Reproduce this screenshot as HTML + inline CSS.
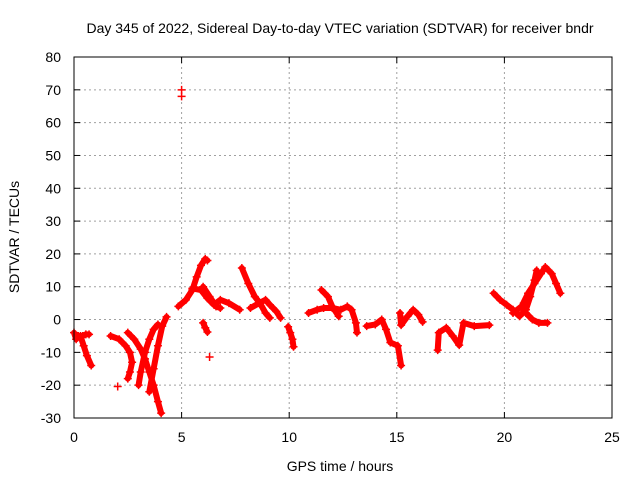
<!DOCTYPE html>
<html><head><meta charset="utf-8"><style>
body{margin:0;background:#fff;}
svg text{font-family:"Liberation Sans",sans-serif;font-size:14px;fill:#000;}
</style></head><body>
<svg id="chart" width="640" height="480" xmlns="http://www.w3.org/2000/svg">
<text x="340" y="33" text-anchor="middle">Day 345 of 2022, Sidereal Day-to-day VTEC variation (SDTVAR) for receiver bndr</text>
<text x="340" y="471" text-anchor="middle">GPS time / hours</text>
<text transform="translate(19,237) rotate(-90)" text-anchor="middle">SDTVAR / TECUs</text>
<g id="grid"></g><g id="ticks"></g><g id="data"></g>
<rect x="74" y="57" width="538" height="361" fill="none" stroke="#000" stroke-width="1"/>
</svg>
<script>
const xTicks=[0,5,10,15,20,25];
const yTicks=[-30,-20,-10,0,10,20,30,40,50,60,70,80];
const arcA=[[0,-4],[0.1,-6],[0.2,-5],[0.4,-5],[0.55,-4.5],[0.7,-4.5]];
const arcA2=[[0.3,-5],[0.45,-8],[0.6,-11],[0.8,-14]];
const arcB1=[[1.7,-5],[2.1,-6],[2.4,-8],[2.6,-10],[2.7,-13],[2.6,-16],[2.5,-18]];
const arcB2=[[2.5,-4],[2.8,-6],[3.1,-9],[3.3,-12],[3.5,-16],[3.7,-20],[3.9,-25],[4.05,-28.5]];
const arcB3=[[3.0,-20],[3.1,-16],[3.3,-10],[3.5,-6],[3.7,-3],[3.9,-1.5]];
const arcB4=[[3.5,-22],[3.7,-15],[3.9,-8],[4.1,-2],[4.3,0.8]];
const arcC1=[[4.85,4],[5.2,6],[5.5,9],[5.7,13],[5.9,16.5],[6.1,18.5],[6.2,18]];
const arcC2=[[5.5,9.5],[5.9,9],[6.2,6.5],[6.5,4.5],[6.8,6],[7.2,5],[7.7,3]];
const arcC3=[[6.0,10],[6.3,7],[6.6,4],[6.8,3.5]];
const arcC4=[[6.0,-1],[6.1,-2.5],[6.2,-3.8]];
const arcD1=[[7.8,15.7],[8.1,11],[8.4,7],[8.64,5],[8.9,2],[9.1,0.5]];
const arcD2=[[8.2,3.5],[8.6,5],[8.9,6],[9.1,4.5],[9.4,2.5],[9.6,0.5]];
const arcD3=[[9.95,-2.2],[10.05,-4],[10.15,-6],[10.2,-8.3]];
const arcE1=[[10.9,2],[11.3,3],[11.6,3.5],[12,3.5],[12.4,3],[12.7,4],[12.9,3],[13.1,-1],[13.15,-4]];
const arcE2=[[11.5,9],[11.8,7],[12.0,4],[12.3,1]];
const arcF1=[[13.6,-2],[14.0,-1.5],[14.3,0],[14.5,-3],[14.7,-7],[15.05,-8],[15.2,-14]];
const arcF2=[[15.15,2],[15.2,-1.7],[15.5,1],[15.76,3],[16.0,1.5],[16.2,-0.7]];
const arcG=[[16.9,-9.3],[16.95,-4],[17.3,-2.5],[17.6,-5],[17.9,-7.8],[18.1,-1],[18.6,-2],[19.3,-1.7]];
const arcH1=[[19.5,8],[19.8,6],[20.1,4.5],[20.4,3],[20.7,1],[21.0,3],[21.2,7],[21.4,12],[21.5,15]];
const arcH2=[[20.4,2],[20.8,4],[21.1,8],[21.4,11],[21.7,14],[21.9,16],[22.2,14],[22.4,11],[22.6,8]];
const arcH3=[[20.9,5],[21.0,2],[21.3,0],[21.6,-1],[22.0,-1]];
const outliers=[[5.0,70],[5.0,68],[6.3,-11.4],[2.03,-20.4]];
const arcs=[arcA,arcA2,arcB1,arcB2,arcB3,arcB4,arcC1,arcC2,arcC3,arcC4,arcD1,arcD2,arcD3,arcE1,arcE2,arcF1,arcF2,arcG,arcH1,arcH2,arcH3];
const NS="http://www.w3.org/2000/svg";
const X0=74,X1=612,Y0=418,Y1=57;
function sx(h){return X0+(h-0)/25*(X1-X0);}
function sy(v){return Y0-(v+30)/110*(Y0-Y1);}
function mk(t,a,p){const e=document.createElementNS(NS,t);for(const k in a)e.setAttribute(k,a[k]);p.appendChild(e);return e;}
const grid=document.getElementById('grid'),ticks=document.getElementById('ticks'),data=document.getElementById('data');
xTicks.forEach(t=>{const x=sx(t);
 if(t>0&&t<25){const g=mk('line',{x1:x,x2:x,y1:Y1,y2:Y0,stroke:'#a0a0a0','stroke-dasharray':'2,3'},grid);
 
 }
 mk('line',{x1:x,x2:x,y1:Y0,y2:Y0-6,stroke:'#000'},ticks);mk('line',{x1:x,x2:x,y1:Y1,y2:Y1+6,stroke:'#000'},ticks);
 const l=mk('text',{x:x,y:442,'text-anchor':'middle'},ticks);l.textContent=t;
 
 });
yTicks.forEach(t=>{const y=sy(t);
 if(t>-30&&t<80){const g=mk('line',{x1:X0,x2:X1,y1:y,y2:y,stroke:'#a0a0a0','stroke-dasharray':'2,3'},grid);
 
 }
 mk('line',{x1:X0,x2:X0+6,y1:y,y2:y,stroke:'#000'},ticks);mk('line',{x1:X1,x2:X1-6,y1:y,y2:y,stroke:'#000'},ticks);
 const l=mk('text',{x:61,y:y+5,'text-anchor':'end'},ticks);l.textContent=t;
 
 });
function plus(h,v){const x=sx(h),y=sy(v);
 const p=mk('path',{d:`M${x-4},${y}H${x+4}M${x},${y-4}V${y+4}`,stroke:'#f00','stroke-width':1.5},data);
 
 }
arcs.forEach(a=>{
 const pl=mk('polyline',{points:a.map(p=>sx(p[0])+','+sy(p[1])).join(' '),fill:'none',stroke:'#f00','stroke-width':6,'stroke-linejoin':'round','stroke-linecap':'round'},data);
 
 
 a.forEach(p=>plus(p[0],p[1]));});
outliers.forEach(p=>plus(p[0],p[1]));
</script>
</body></html>
